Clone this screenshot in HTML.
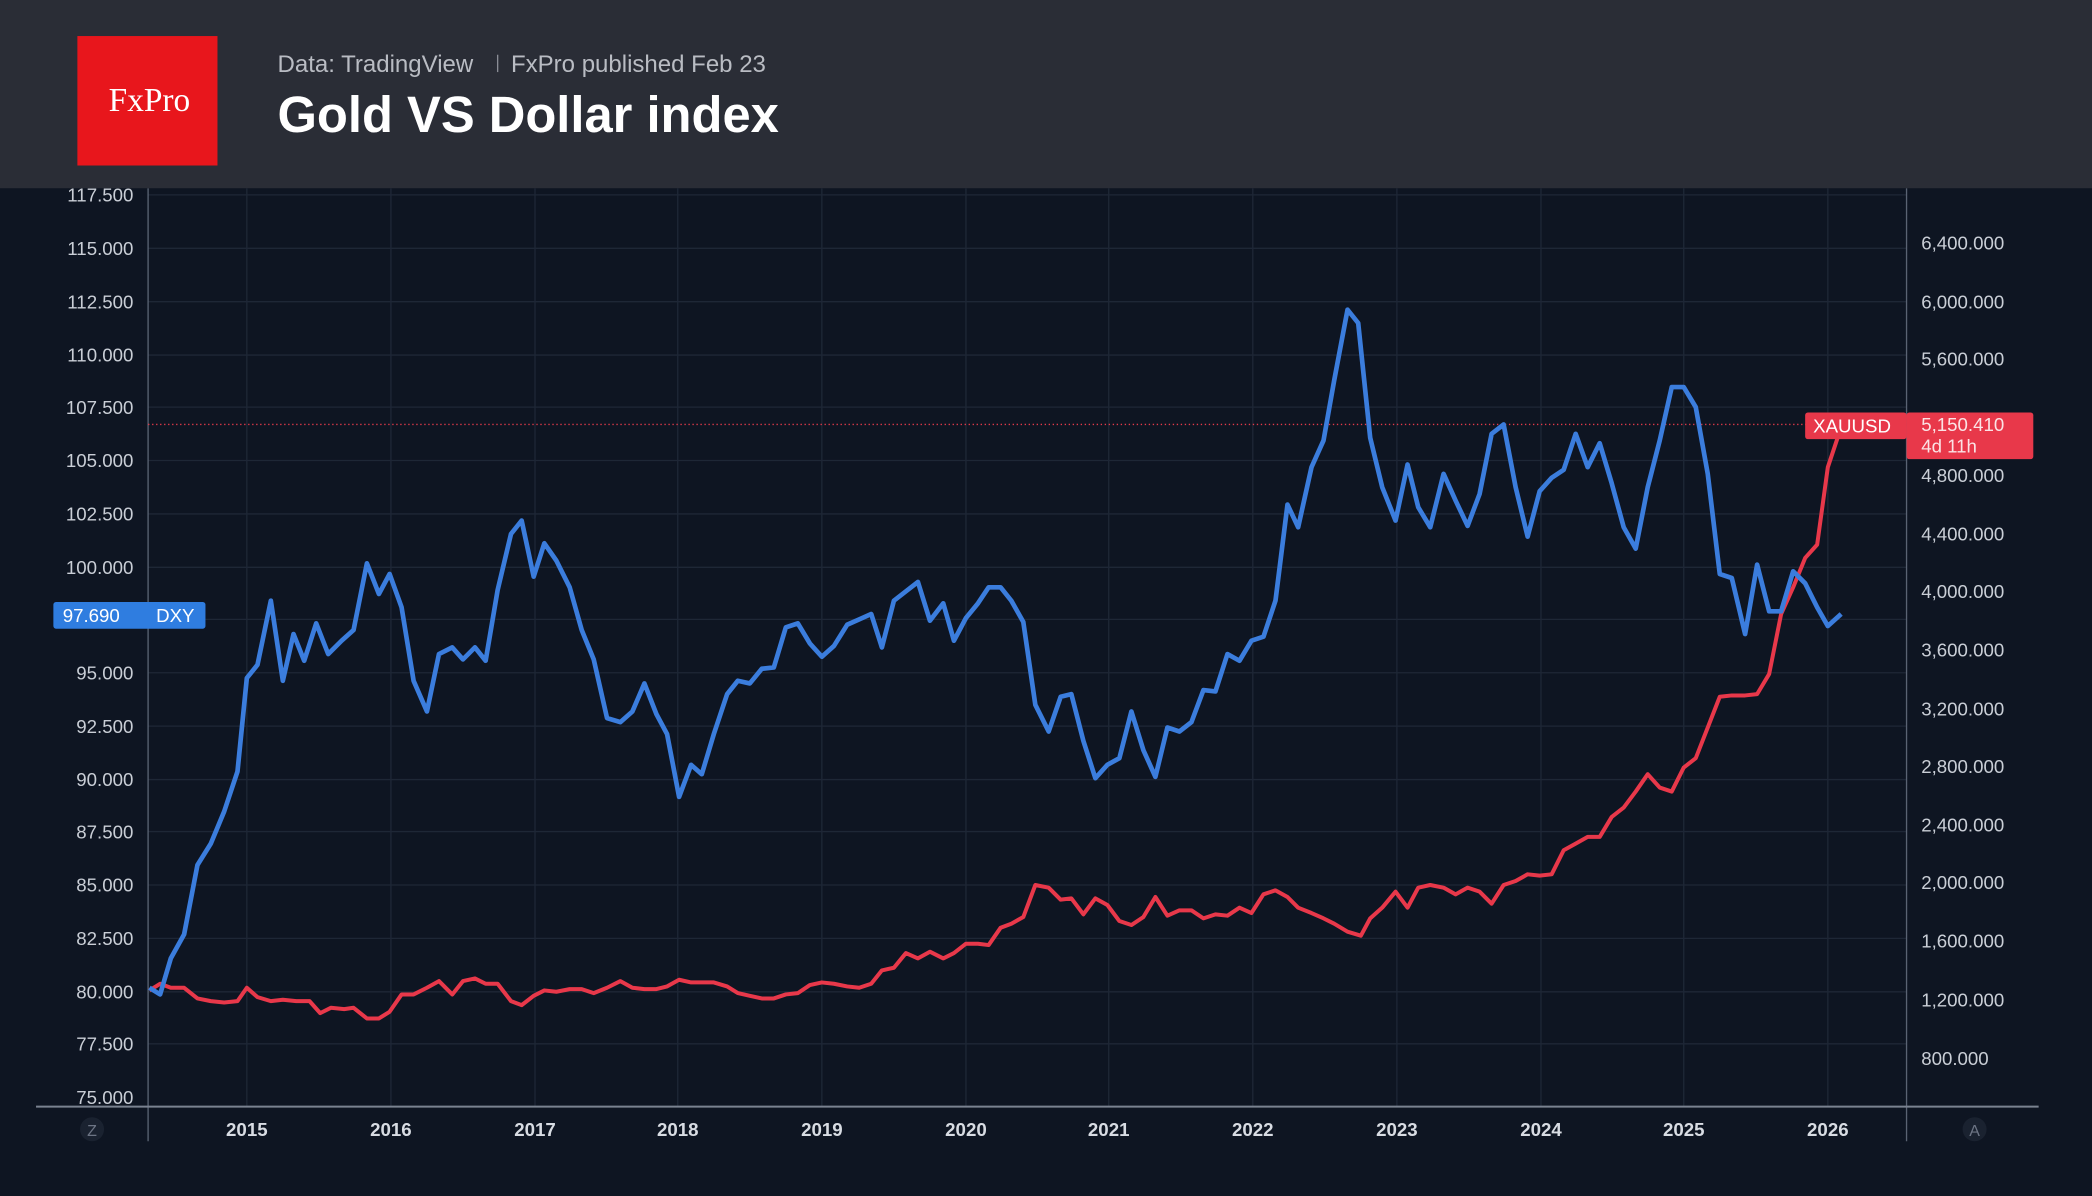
<!DOCTYPE html>
<html><head><meta charset="utf-8"><style>
html,body{margin:0;padding:0;background:#0e1522;width:2092px;height:1196px;overflow:hidden}
svg{display:block}
</style></head><body>
<svg width="2092" height="1196" viewBox="0 0 1568 896" preserveAspectRatio="none" xmlns="http://www.w3.org/2000/svg" font-family="Liberation Sans, sans-serif">
<rect width="1568" height="896" fill="#0e1522"/>
<g stroke="#1e2736" stroke-width="1">
<line x1="111" y1="146" x2="1429" y2="146"/><line x1="111" y1="186" x2="1429" y2="186"/><line x1="111" y1="226" x2="1429" y2="226"/><line x1="111" y1="266" x2="1429" y2="266"/><line x1="111" y1="305" x2="1429" y2="305"/><line x1="111" y1="345" x2="1429" y2="345"/><line x1="111" y1="385" x2="1429" y2="385"/><line x1="111" y1="425" x2="1429" y2="425"/><line x1="111" y1="464" x2="1429" y2="464"/><line x1="111" y1="504" x2="1429" y2="504"/><line x1="111" y1="544" x2="1429" y2="544"/><line x1="111" y1="584" x2="1429" y2="584"/><line x1="111" y1="623" x2="1429" y2="623"/><line x1="111" y1="663" x2="1429" y2="663"/><line x1="111" y1="703" x2="1429" y2="703"/><line x1="111" y1="743" x2="1429" y2="743"/><line x1="111" y1="782" x2="1429" y2="782"/>
<line x1="185" y1="141" x2="185" y2="829"/><line x1="293" y1="141" x2="293" y2="829"/><line x1="401" y1="141" x2="401" y2="829"/><line x1="508" y1="141" x2="508" y2="829"/><line x1="616" y1="141" x2="616" y2="829"/><line x1="724" y1="141" x2="724" y2="829"/><line x1="831" y1="141" x2="831" y2="829"/><line x1="939" y1="141" x2="939" y2="829"/><line x1="1047" y1="141" x2="1047" y2="829"/><line x1="1155" y1="141" x2="1155" y2="829"/><line x1="1262" y1="141" x2="1262" y2="829"/><line x1="1370" y1="141" x2="1370" y2="829"/>
</g>
<line x1="111" y1="141" x2="111" y2="855" stroke="#5a6373" stroke-width="1"/>
<line x1="1429" y1="141" x2="1429" y2="855" stroke="#5a6373" stroke-width="1"/>
<line x1="27" y1="829" x2="1528" y2="829" stroke="#7a8290" stroke-width="1.5"/>
<g fill="#c9ced6" font-size="14" text-anchor="end">
<text x="100" y="151">117.500</text><text x="100" y="191">115.000</text><text x="100" y="231">112.500</text><text x="100" y="271">110.000</text><text x="100" y="310">107.500</text><text x="100" y="350">105.000</text><text x="100" y="390">102.500</text><text x="100" y="430">100.000</text><text x="100" y="509">95.000</text><text x="100" y="549">92.500</text><text x="100" y="589">90.000</text><text x="100" y="628">87.500</text><text x="100" y="668">85.000</text><text x="100" y="708">82.500</text><text x="100" y="748">80.000</text><text x="100" y="787">77.500</text><text x="100" y="827">75.000</text>
</g>
<g fill="#c9ced6" font-size="14">
<text x="1440" y="187">6,400.000</text><text x="1440" y="231">6,000.000</text><text x="1440" y="274">5,600.000</text><text x="1440" y="361">4,800.000</text><text x="1440" y="405">4,400.000</text><text x="1440" y="448">4,000.000</text><text x="1440" y="492">3,600.000</text><text x="1440" y="536">3,200.000</text><text x="1440" y="579">2,800.000</text><text x="1440" y="623">2,400.000</text><text x="1440" y="666">2,000.000</text><text x="1440" y="710">1,600.000</text><text x="1440" y="754">1,200.000</text><text x="1440" y="798">800.000</text>
</g>
<g fill="#d8dce3" font-size="14" font-weight="bold" text-anchor="middle">
<text x="185" y="851">2015</text><text x="293" y="851">2016</text><text x="401" y="851">2017</text><text x="508" y="851">2018</text><text x="616" y="851">2019</text><text x="724" y="851">2020</text><text x="831" y="851">2021</text><text x="939" y="851">2022</text><text x="1047" y="851">2023</text><text x="1155" y="851">2024</text><text x="1262" y="851">2025</text><text x="1370" y="851">2026</text>
</g>
<circle cx="69" cy="846" r="9" fill="#1a2230"/><text x="69" y="851" fill="#6d7585" font-size="12" text-anchor="middle">Z</text>
<circle cx="1480" cy="846" r="9" fill="#1a2230"/><text x="1480" y="851" fill="#6d7585" font-size="12" text-anchor="middle">A</text>
<line x1="111" y1="318" x2="1429" y2="318" stroke="#e23a4a" stroke-width="1" stroke-dasharray="1,2"/>
<polyline fill="none" stroke="#e8384a" stroke-width="3" stroke-linejoin="round" points="112,742 120,737 128,740 138,740 148,748 158,750 168,751 178,750 185,740 193,747 203,750 212,749 222,750 232,750 240,759 248,755 258,756 265,755 275,763 284,763 292,758 301,745 310,745 320,740 329,735 339,745 347,735 356,733 364,737 373,737 383,750 391,753 400,746 408,742 417,743 427,741 436,741 445,744 455,740 465,735 474,740 483,741 492,741 500,739 509,734 518,736 526,736 535,736 545,739 553,744 562,746 571,748 580,748 589,745 598,744 607,738 616,736 625,737 635,739 644,740 653,737 661,727 670,725 679,714 688,718 697,713 707,718 715,714 724,707 733,707 741,708 750,695 758,692 767,687 776,663 786,665 795,674 803,673 812,685 821,673 830,678 839,690 848,693 857,687 866,672 875,686 884,682 893,682 902,688 911,685 920,686 929,680 938,684 947,670 956,667 965,672 973,680 983,684 992,688 1000,692 1010,698 1020,701 1027,688 1036,680 1046,668 1055,680 1063,665 1072,663 1082,665 1091,670 1100,665 1109,668 1118,677 1127,663 1136,660 1145,655 1154,656 1163,655 1172,637 1181,632 1190,627 1199,627 1208,612 1217,605 1226,593 1235,580 1244,590 1253,593 1262,575 1271,568 1280,545 1289,522 1298,521 1308,521 1317,520 1326,505 1335,460 1344,440 1353,418 1362,408 1370,350 1380,320"/>
<polyline fill="none" stroke="#3b7ddd" stroke-width="3.5" stroke-linejoin="round" points="112,740 120,745 128,718 138,700 148,648 158,632 168,608 178,578 185,508 193,498 203,450 212,510 220,475 228,495 237,467 246,490 256,480 265,472 275,422 284,445 292,430 301,455 310,510 320,533 329,490 339,485 347,494 356,485 364,495 373,442 383,400 391,390 400,432 408,407 417,420 427,440 436,472 445,494 455,538 465,541 474,533 483,512 492,535 500,550 509,597 518,573 526,580 535,550 545,520 553,510 562,512 571,501 580,500 589,470 598,467 607,482 616,492 625,484 635,468 644,464 653,460 661,485 670,450 679,443 688,436 697,465 707,452 715,480 724,463 733,452 741,440 750,440 758,450 767,466 776,528 786,548 795,522 803,520 812,555 821,583 830,573 839,568 848,533 857,562 866,582 875,545 884,548 893,541 902,517 911,518 920,490 929,495 938,480 947,477 956,450 965,378 973,395 983,350 992,330 1000,285 1010,232 1018,242 1027,328 1036,365 1046,390 1055,348 1063,380 1072,395 1082,355 1091,375 1100,394 1109,370 1118,325 1127,318 1136,365 1145,402 1154,368 1163,358 1172,352 1181,325 1190,350 1199,332 1208,362 1217,395 1226,411 1235,365 1244,330 1253,290 1262,290 1271,305 1280,355 1289,430 1298,433 1308,475 1317,423 1326,458 1335,458 1344,428 1353,437 1362,455 1370,469 1380,460"/>
<rect x="40" y="451" width="114" height="20" rx="2" fill="#2f7de0"/>
<text x="47" y="466" fill="#fff" font-size="14">97.690</text><text x="117" y="466" fill="#fff" font-size="14">DXY</text>
<rect x="1353" y="309" width="76" height="20" rx="2" fill="#e8384a"/>
<text x="1359" y="324" fill="#fff" font-size="14">XAUUSD</text>
<rect x="1429" y="309" width="95" height="35" rx="2" fill="#e8384a"/>
<text x="1440" y="323" fill="#fbe3e5" font-size="14">5,150.410</text>
<text x="1440" y="339" fill="#fbe3e5" font-size="14">4d 11h</text>
<rect x="0" y="0" width="1568" height="141" fill="#2a2d36"/>
<rect x="58" y="27" width="105" height="97" fill="#e8161c"/>
<text x="112" y="83" fill="#fff" font-size="25" font-family="Liberation Serif, serif" text-anchor="middle">FxPro</text>
<text x="208" y="54" fill="#b9bcc3" font-size="18">Data: TradingView</text>
<line x1="373" y1="41" x2="373" y2="54" stroke="#8a8d95" stroke-width="1"/>
<text x="383" y="54" fill="#b9bcc3" font-size="18">FxPro published Feb 23</text>
<text x="208" y="99" fill="#fff" font-size="38" font-weight="bold">Gold VS Dollar index</text>
</svg>
</body></html>
